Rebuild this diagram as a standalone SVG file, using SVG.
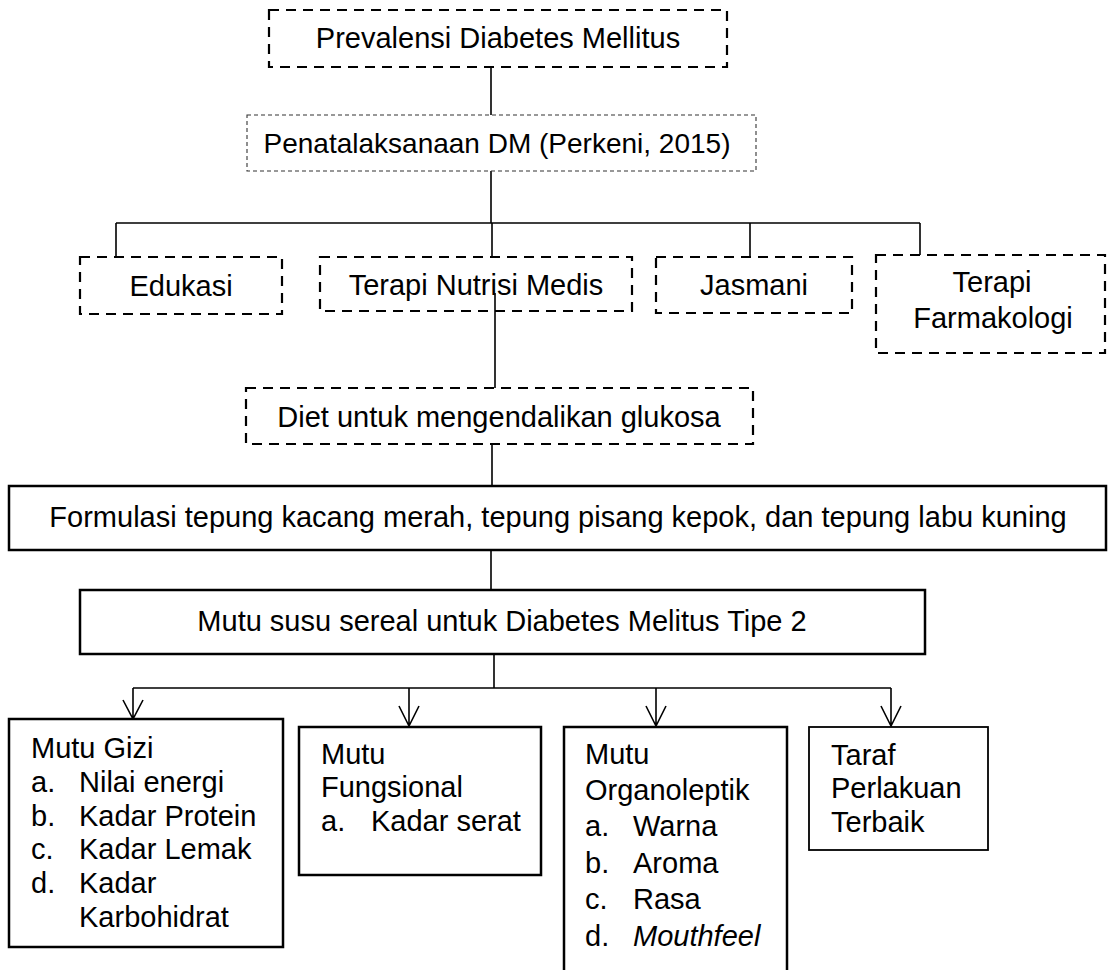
<svg xmlns="http://www.w3.org/2000/svg" width="1108" height="970" viewBox="0 0 1108 970">
<style>
text{font-family:"Liberation Sans",Arial,sans-serif;font-size:29px;fill:#000}
.c{text-anchor:middle}
.dash{fill:#fff;stroke:#000;stroke-width:2.2;stroke-dasharray:10 7}
.dot{fill:#fff;stroke:#333;stroke-width:1.1;stroke-dasharray:4 3}
.box{fill:#fff;stroke:#000;stroke-width:2.5}
.box2{fill:#fff;stroke:#000;stroke-width:1.8}
.conn{fill:none;stroke:#000;stroke-width:1.6}
</style>
<rect width="1108" height="970" fill="#fff"/>
<g id="connectors">
<path class="conn" d="M491 67V115M491 171V223M116 223H920M116 223V257M492 223V257M750 223V257M920 223V255"/>
<path class="conn" d="M495 293V388M492 444V486M491 550V590M494 654V688M133 688H891"/>
<path class="conn" d="M133 688V719M123 700L133 719L143 700"/>
<path class="conn" d="M409 688V726M399 706L409 726L419 706"/>
<path class="conn" d="M656 688V726M646 706L656 726L666 706"/>
<path class="conn" d="M891 688V726M881 706L891 726L901 706"/>
</g>
<g id="n1"><rect class="dash" x="269" y="10" width="458" height="57"/><text class="c" x="498" y="48">Prevalensi Diabetes Mellitus</text></g>
<g id="n2"><rect class="dot" x="247" y="115" width="509" height="56"/><text class="c" x="497" y="153" style="font-size:28px">Penatalaksanaan DM (Perkeni, 2015)</text></g>
<g id="n3"><rect class="dash" x="80" y="257" width="202" height="57"/><text class="c" x="181" y="296">Edukasi</text></g>
<g id="n4"><rect class="dash" x="320" y="257" width="312" height="54"/><text class="c" x="476" y="295">Terapi Nutrisi Medis</text></g>
<path class="conn" d="M495 293V311"/>
<g id="n5"><rect class="dash" x="656" y="257" width="196" height="56"/><text class="c" x="754" y="295">Jasmani</text></g>
<g id="n6"><rect class="dash" x="876" y="255" width="229" height="98"/><text class="c" x="992" y="292">Terapi</text><text class="c" x="993" y="328">Farmakologi</text></g>
<g id="n7"><rect class="dash" x="246" y="388" width="507" height="56"/><text class="c" x="499" y="427">Diet untuk mengendalikan glukosa</text></g>
<g id="n8"><rect class="box" x="9" y="486" width="1097" height="64"/><text class="c" x="558" y="527">Formulasi tepung kacang merah, tepung pisang kepok, dan tepung labu kuning</text></g>
<g id="n9"><rect class="box" x="80" y="590" width="845" height="64"/><text class="c" x="502" y="631">Mutu susu sereal untuk Diabetes Melitus Tipe 2</text></g>
<g id="n10"><rect class="box" x="9" y="719" width="274" height="228"/>
<text x="31" y="758">Mutu Gizi</text>
<text x="31" y="792">a.</text><text x="79" y="792">Nilai energi</text>
<text x="31" y="826">b.</text><text x="79" y="826">Kadar Protein</text>
<text x="31" y="859">c.</text><text x="79" y="859">Kadar Lemak</text>
<text x="31" y="893">d.</text><text x="79" y="893">Kadar</text>
<text x="79" y="927">Karbohidrat</text></g>
<g id="n11"><rect class="box" x="299" y="727" width="242" height="148"/>
<text x="321" y="764">Mutu</text>
<text x="321" y="797">Fungsional</text>
<text x="321" y="831">a.</text><text x="371" y="831">Kadar serat</text></g>
<g id="n12"><rect class="box" x="564" y="727" width="223" height="260"/>
<text x="585" y="764">Mutu</text>
<text x="585" y="800">Organoleptik</text>
<text x="585" y="836">a.</text><text x="633" y="836">Warna</text>
<text x="585" y="873">b.</text><text x="633" y="873">Aroma</text>
<text x="585" y="909">c.</text><text x="633" y="909">Rasa</text>
<text x="585" y="946">d.</text><text x="633" y="946" font-style="italic">Mouthfeel</text></g>
<g id="n13"><rect class="box2" x="809" y="727" width="179" height="123"/>
<text x="831" y="765">Taraf</text>
<text x="831" y="798">Perlakuan</text>
<text x="831" y="832">Terbaik</text></g>
</svg>
